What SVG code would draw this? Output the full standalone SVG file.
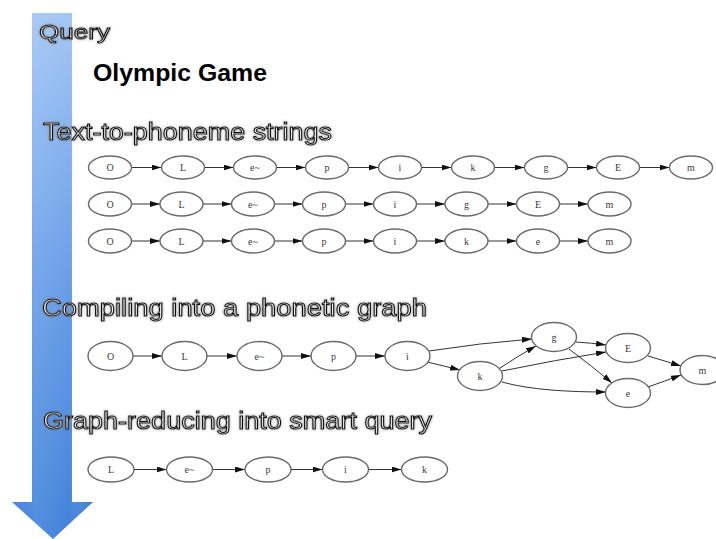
<svg xmlns="http://www.w3.org/2000/svg" width="716" height="539" viewBox="0 0 716 539">
<style>
.hdr{font-family:"Liberation Sans",Arial,sans-serif;fill:#e6e6e6;stroke:#111;stroke-width:1px;filter:url(#glow)}
.title{font-family:"Liberation Sans",Arial,sans-serif;font-weight:bold;font-size:24px;fill:#000}
.n ellipse{fill:#fff;stroke:#6a6a6a;stroke-width:1.4}
.n text{font-family:"Liberation Serif","Times New Roman",serif;font-size:10px;fill:#3a3a3a;text-anchor:middle}
.e line,.e path{stroke:#333;stroke-width:1;fill:none;marker-end:url(#ah)}
</style>
<defs>
<linearGradient id="shaft" x1="0" y1="0" x2="0" y2="1">
<stop offset="0" stop-color="#a3c6f4"/>
<stop offset="0.5" stop-color="#6a9fe8"/>
<stop offset="1" stop-color="#4282da"/>
</linearGradient>
<linearGradient id="shade" x1="0" y1="0" x2="1" y2="0">
<stop offset="0" stop-color="#fff" stop-opacity="0"/>
<stop offset="0.3" stop-color="#fff" stop-opacity="0.08"/>
<stop offset="0.7" stop-color="#fff" stop-opacity="0"/>
<stop offset="1" stop-color="#1a3f80" stop-opacity="0.18"/>
</linearGradient>
<filter id="glow" x="-10%" y="-40%" width="120%" height="180%">
<feGaussianBlur in="SourceAlpha" stdDeviation="1.8" result="b"/>
<feFlood flood-color="#777" flood-opacity="0.7"/>
<feComposite in2="b" operator="in" result="g"/>
<feMerge><feMergeNode in="g"/><feMergeNode in="SourceGraphic"/></feMerge>
</filter>
<marker id="ah" markerUnits="userSpaceOnUse" viewBox="0 0 10 6" markerWidth="10" markerHeight="6" refX="10" refY="3" orient="auto">
<path d="M0,0 L10,3 L0,6 z" fill="#111"/>
</marker>
</defs>
<rect width="716" height="539" fill="#fff"/>
<g id="flow-arrow">
<path d="M32,13 H72 V502 H93 L53,539 L12,502 H32 Z" fill="url(#shaft)"/>
<path d="M32,13 H72 V502 H93 L53,539 L12,502 H32 Z" fill="url(#shade)"/>
</g>
<g id="headers">
<text class="hdr" x="39" y="39" font-size="20" textLength="71" lengthAdjust="spacingAndGlyphs">Query</text>
<text class="title" x="93" y="81" textLength="174" lengthAdjust="spacingAndGlyphs">Olympic Game</text>
<text class="hdr" x="43" y="140" font-size="23" textLength="289" lengthAdjust="spacingAndGlyphs">Text-to-phoneme strings</text>
<text class="hdr" x="42" y="316" font-size="23" textLength="385" lengthAdjust="spacingAndGlyphs">Compiling into a phonetic graph</text>
<text class="hdr" x="43" y="429" font-size="23" textLength="389" lengthAdjust="spacingAndGlyphs">Graph-reducing into smart query</text>
</g>
<g id="connectors" class="e">
<line x1="131.5" y1="167.5" x2="161.5" y2="167.5"/>
<line x1="204.5" y1="167.5" x2="233.5" y2="167.5"/>
<line x1="276.5" y1="167.5" x2="305.5" y2="167.5"/>
<line x1="348.5" y1="167.5" x2="378.5" y2="167.5"/>
<line x1="421.5" y1="167.5" x2="451.5" y2="167.5"/>
<line x1="494.5" y1="167.5" x2="524.5" y2="167.5"/>
<line x1="567.5" y1="167.5" x2="596.5" y2="167.5"/>
<line x1="639.5" y1="167.5" x2="669.5" y2="167.5"/>
<line x1="131.5" y1="204" x2="160" y2="204"/>
<line x1="203" y1="204" x2="231.5" y2="204"/>
<line x1="274.5" y1="204" x2="302.5" y2="204"/>
<line x1="345.5" y1="204" x2="373.5" y2="204"/>
<line x1="416.5" y1="204" x2="445" y2="204"/>
<line x1="488" y1="204" x2="516.5" y2="204"/>
<line x1="559.5" y1="204" x2="588" y2="204"/>
<line x1="131.5" y1="241" x2="160" y2="241"/>
<line x1="203" y1="241" x2="231.5" y2="241"/>
<line x1="274.5" y1="241" x2="302.5" y2="241"/>
<line x1="345.5" y1="241" x2="373.5" y2="241"/>
<line x1="416.5" y1="241" x2="445" y2="241"/>
<line x1="488" y1="241" x2="516.5" y2="241"/>
<line x1="559.5" y1="241" x2="588" y2="241"/>
<line x1="133" y1="356" x2="162" y2="356"/>
<line x1="207" y1="356" x2="237" y2="356"/>
<line x1="282" y1="356" x2="311" y2="356"/>
<line x1="356" y1="356" x2="385" y2="356"/>
<path d="M429,351 Q480,343 532,339"/>
<path d="M427,362 Q444,366 460,370"/>
<path d="M500,368 Q518,356 536,346"/>
<path d="M502,371 Q555,360 606,352"/>
<path d="M502,382 C530,390 570,392 606,392"/>
<path d="M576,342 Q592,343 606,345"/>
<path d="M569,349 Q592,366 612,383"/>
<path d="M648,356 Q665,361 681,366"/>
<path d="M648,387 Q665,381 681,375"/>
<line x1="134" y1="469.5" x2="166.5" y2="469.5"/>
<line x1="212.5" y1="469.5" x2="245" y2="469.5"/>
<line x1="291" y1="469.5" x2="322.5" y2="469.5"/>
<line x1="368.5" y1="469.5" x2="401.5" y2="469.5"/>
</g>
<g id="row1">
<g id="r1-O" class="n"><ellipse cx="110" cy="167.5" rx="21.5" ry="11.5"/><text x="110" y="171">O</text></g>
<g id="r1-L" class="n"><ellipse cx="183" cy="167.5" rx="21.5" ry="11.5"/><text x="183" y="171">L</text></g>
<g id="r1-e~" class="n"><ellipse cx="255" cy="167.5" rx="21.5" ry="11.5"/><text x="255" y="171">e~</text></g>
<g id="r1-p" class="n"><ellipse cx="327" cy="167.5" rx="21.5" ry="11.5"/><text x="327" y="171">p</text></g>
<g id="r1-i" class="n"><ellipse cx="400" cy="167.5" rx="21.5" ry="11.5"/><text x="400" y="171">i</text></g>
<g id="r1-k" class="n"><ellipse cx="473" cy="167.5" rx="21.5" ry="11.5"/><text x="473" y="171">k</text></g>
<g id="r1-g" class="n"><ellipse cx="546" cy="167.5" rx="21.5" ry="11.5"/><text x="546" y="171">g</text></g>
<g id="r1-E" class="n"><ellipse cx="618" cy="167.5" rx="21.5" ry="11.5"/><text x="618" y="171">E</text></g>
<g id="r1-m" class="n"><ellipse cx="691" cy="167.5" rx="21.5" ry="11.5"/><text x="691" y="171">m</text></g>
</g>
<g id="row2">
<g id="r2-O" class="n"><ellipse cx="110" cy="204" rx="21.5" ry="12"/><text x="110" y="207.5">O</text></g>
<g id="r2-L" class="n"><ellipse cx="181.5" cy="204" rx="21.5" ry="12"/><text x="181.5" y="207.5">L</text></g>
<g id="r2-e~" class="n"><ellipse cx="253" cy="204" rx="21.5" ry="12"/><text x="253" y="207.5">e~</text></g>
<g id="r2-p" class="n"><ellipse cx="324" cy="204" rx="21.5" ry="12"/><text x="324" y="207.5">p</text></g>
<g id="r2-i" class="n"><ellipse cx="395" cy="204" rx="21.5" ry="12"/><text x="395" y="207.5">i</text></g>
<g id="r2-g" class="n"><ellipse cx="466.5" cy="204" rx="21.5" ry="12"/><text x="466.5" y="207.5">g</text></g>
<g id="r2-E" class="n"><ellipse cx="538" cy="204" rx="21.5" ry="12"/><text x="538" y="207.5">E</text></g>
<g id="r2-m" class="n"><ellipse cx="609.5" cy="204" rx="21.5" ry="12"/><text x="609.5" y="207.5">m</text></g>
</g>
<g id="row3">
<g id="r3-O" class="n"><ellipse cx="110" cy="241" rx="21.5" ry="12"/><text x="110" y="244.5">O</text></g>
<g id="r3-L" class="n"><ellipse cx="181.5" cy="241" rx="21.5" ry="12"/><text x="181.5" y="244.5">L</text></g>
<g id="r3-e~" class="n"><ellipse cx="253" cy="241" rx="21.5" ry="12"/><text x="253" y="244.5">e~</text></g>
<g id="r3-p" class="n"><ellipse cx="324" cy="241" rx="21.5" ry="12"/><text x="324" y="244.5">p</text></g>
<g id="r3-i" class="n"><ellipse cx="395" cy="241" rx="21.5" ry="12"/><text x="395" y="244.5">i</text></g>
<g id="r3-k" class="n"><ellipse cx="466.5" cy="241" rx="21.5" ry="12"/><text x="466.5" y="244.5">k</text></g>
<g id="r3-e" class="n"><ellipse cx="538" cy="241" rx="21.5" ry="12"/><text x="538" y="244.5">e</text></g>
<g id="r3-m" class="n"><ellipse cx="609.5" cy="241" rx="21.5" ry="12"/><text x="609.5" y="244.5">m</text></g>
</g>
<g id="graph">
<g id="g-O" class="n"><ellipse cx="110.5" cy="356" rx="22.5" ry="14.5"/><text x="110.5" y="359.5">O</text></g>
<g id="g-L" class="n"><ellipse cx="184.5" cy="356" rx="22.5" ry="14.5"/><text x="184.5" y="359.5">L</text></g>
<g id="g-e~" class="n"><ellipse cx="259.5" cy="356" rx="22.5" ry="14.5"/><text x="259.5" y="359.5">e~</text></g>
<g id="g-p" class="n"><ellipse cx="333.5" cy="356" rx="22.5" ry="14.5"/><text x="333.5" y="359.5">p</text></g>
<g id="g-i" class="n"><ellipse cx="407.5" cy="356" rx="22.5" ry="14.5"/><text x="407.5" y="359.5">i</text></g>
<g id="g-k" class="n"><ellipse cx="480" cy="376" rx="22.5" ry="14.5"/><text x="480" y="379.5">k</text></g>
<g id="g-g" class="n"><ellipse cx="554" cy="337" rx="22.5" ry="14.5"/><text x="554" y="340.5">g</text></g>
<g id="g-E" class="n"><ellipse cx="628" cy="348" rx="22.5" ry="14.5"/><text x="628" y="351.5">E</text></g>
<g id="g-e" class="n"><ellipse cx="628" cy="393" rx="22.5" ry="14.5"/><text x="628" y="396.5">e</text></g>
<g id="g-m" class="n"><ellipse cx="702.5" cy="370" rx="22.5" ry="14.5"/><text x="702.5" y="373.5">m</text></g>
</g>
<g id="row-smart">
<g id="s-L" class="n"><ellipse cx="111" cy="469.5" rx="23" ry="12.5"/><text x="111" y="473">L</text></g>
<g id="s-e~" class="n"><ellipse cx="189.5" cy="469.5" rx="23" ry="12.5"/><text x="189.5" y="473">e~</text></g>
<g id="s-p" class="n"><ellipse cx="268" cy="469.5" rx="23" ry="12.5"/><text x="268" y="473">p</text></g>
<g id="s-i" class="n"><ellipse cx="345.5" cy="469.5" rx="23" ry="12.5"/><text x="345.5" y="473">i</text></g>
<g id="s-k" class="n"><ellipse cx="424.5" cy="469.5" rx="23" ry="12.5"/><text x="424.5" y="473">k</text></g>
</g>
</svg>
